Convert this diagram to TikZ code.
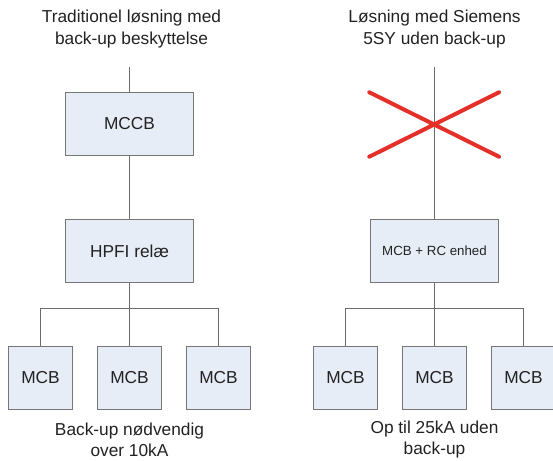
\documentclass[tikz,border=0pt]{standalone}
\usepackage{fontspec}
\setmainfont{Liberation Sans}
\usepackage{xcolor}
\usetikzlibrary{arrows}

\definecolor{boxfill}{HTML}{E7EDF6}
\definecolor{boxline}{HTML}{767676}
\definecolor{wire}{HTML}{6A6A6A}
\definecolor{txt}{HTML}{222222}
\definecolor{crossred}{HTML}{E5302A}

\begin{document}
\begin{tikzpicture}[x=1pt, y=1pt, node distance=127pt, auto,
    every node/.style={font=\fontsize{17.3}{21.5}\selectfont, text=txt},
    box/.style={draw=boxline, fill=boxfill, line width=1.1pt, minimum width=127.6pt, minimum height=63.4pt, inner sep=0pt},
    mcb/.style={box, minimum width=64pt},
    note/.style={align=center, inner sep=0pt},
    wire/.style={draw=wire, line width=1.1pt},
    cross/.style={draw=crossred, line width=4pt, line cap=round}]
    \useasboundingbox (0,0) rectangle (553,-460);

      % traditional solution
      \node[box] (MCCB) at (129.5,-124) {MCCB};
      \node[box, below of=MCCB] (HPFI) {HPFI rel\ae};
      \node[mcb, below of=HPFI, node distance=126.75pt] (MCBb) {MCB};
      \node[mcb, node distance=89pt, left of=MCBb] (MCBa) {MCB};
      \node[mcb, node distance=89pt, right of=MCBb] (MCBc) {MCB};
      \node[note, node distance=95pt, above of=MCCB, xshift=2pt] (TRAD) {Traditionel løsning med\\back-up beskyttelse};
      \node[note, node distance=62pt, below of=MCBb] (NEED) {Back-up nødvendig\\over 10kA};
      \coordinate[node distance=56.7pt, above of=MCCB] (feedL);
      \coordinate[node distance=57.3pt, below of=HPFI] (splitL);

      % siemens 5SY solution
      \node[box, node distance=305pt, right of=HPFI, font=\fontsize{13.3}{16}\selectfont] (RC) {MCB + RC enhed};
      \node[mcb, below of=RC, node distance=126.75pt] (MCBe) {MCB};
      \node[mcb, node distance=89pt, left of=MCBe] (MCBd) {MCB};
      \node[mcb, node distance=89pt, right of=MCBe] (MCBf) {MCB};
      \node[note, node distance=305pt, right of=TRAD, xshift=-2pt] (SIEM) {Løsning med Siemens\\5SY uden back-up};
      \node[note, node distance=62pt, below of=MCBe] (UPTO) {Op til 25kA uden\\back-up};
      \coordinate[node distance=183.7pt, above of=RC] (feedR);
      \coordinate[node distance=57.3pt, below of=RC] (splitR);

        \path[wire] (feedL) -- (MCCB)
            (MCCB) -- (HPFI)
            (HPFI) -- (MCBb)
            (MCBa) |- (splitL) -| (MCBc)
            (feedR) -- (RC)
            (RC) -- (MCBe)
            (MCBd) |- (splitR) -| (MCBf);

        \draw[cross] (369.3,-92.3) -- (499,-156.7)
            (369.3,-156.7) -- (499,-92.3);
    \end{tikzpicture}
\end{document}
